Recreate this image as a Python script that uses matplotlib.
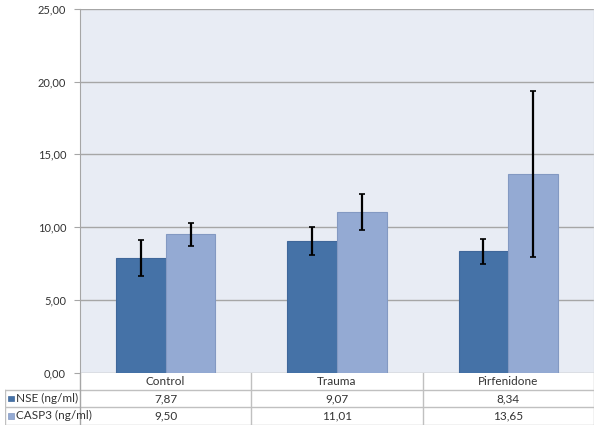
import numpy as np
import matplotlib.pyplot as plt
from matplotlib.patches import Rectangle

groups = ["Control", "Trauma", "Pirfenidone"]
series = ["NSE (ng/ml)", "CASP3 (ng/ml)"]
nse = [7.87, 9.07, 8.34]
casp3 = [9.50, 11.01, 13.65]
nse_err = [1.24, 0.96, 0.85]
casp3_err = [0.78, 1.24, 5.70]
yticks = [0, 5, 10, 15, 20, 25]

colors = ["#4572A7", "#94AAD3"]
edges = ["#3F679A", "#8399C2"]
grid_c = "#A6A6A6"
tab_c = "#C0C0C0"
txt_c = "#333333"

plt.rcParams['font.family'] = ['Lato', 'DejaVu Sans']


def fmt(v):
    return ("%.2f" % v).replace(".", ",")


fig = plt.figure(figsize=(6, 4.29), dpi=100)
W, H = 600, 429
x0, x1, y_top, y_bot = 80, 594, 9, 372.5
ax = fig.add_axes([x0 / W, 1 - y_bot / H, (x1 - x0) / W, (y_bot - y_top) / H])

x = np.arange(len(groups))
bw = 0.29
ax.set_facecolor("#E8ECF4")
ax.bar(x - bw / 2, nse, bw, color=colors[0], edgecolor=edges[0], linewidth=0.8, zorder=3)
ax.bar(x + bw / 2, casp3, bw, color=colors[1], edgecolor=edges[1], linewidth=0.8, zorder=3)
ax.errorbar(x - bw / 2, nse, yerr=nse_err, fmt='none', ecolor='black', elinewidth=1.6, capsize=2.5, capthick=1.2, zorder=4)
ax.errorbar(x + bw / 2, casp3, yerr=casp3_err, fmt='none', ecolor='black', elinewidth=1.6, capsize=2.5, capthick=1.2, zorder=4)

ax.set_xlim(-0.5, len(groups) - 0.5)
ax.set_ylim(0, 25)
ax.set_yticks(yticks)
ax.set_yticklabels([fmt(v) for v in yticks], fontsize=8, color=txt_c)
ax.set_xticks([])
ax.yaxis.grid(True, color=grid_c, linewidth=1.0, zorder=1)
ax.tick_params(axis='y', length=4, color=grid_c, pad=6)
for s in ["top", "right", "bottom"]:
    ax.spines[s].set_visible(False)
ax.spines["left"].set_color(grid_c)
ax.axvline(len(groups) - 0.5, color="#D4D9E3", linewidth=1.0, zorder=2)

# data table below the plot
lab_w = (x0 - 5) / ((x1 - x0) / len(groups))
tab = fig.add_axes([5 / W, 1 - 424.5 / H, (x1 - 5) / W, (424.5 - y_bot) / H])
tab.set_xlim(-0.5 - lab_w, len(groups) - 0.5)
tab.set_ylim(3, 0)
tab.axis('off')
left = -0.5 - lab_w
for r in [1, 2, 3]:
    tab.plot([left, len(groups) - 0.5], [r, r], color=tab_c, lw=1)
tab.plot([left, left], [1, 3], color=tab_c, lw=1)
tab.plot([-0.5, -0.5], [0, 3], color=grid_c, lw=1)
for i in range(len(groups)):
    tab.plot([i + 0.5, i + 0.5], [0, 3], color=tab_c, lw=1)
    tab.text(i, 0.5, groups[i], ha='center', va='center', fontsize=8.5, color=txt_c)
    tab.text(i, 1.5, fmt(nse[i]), ha='center', va='center', fontsize=8.5, color=txt_c)
    tab.text(i, 2.5, fmt(casp3[i]), ha='center', va='center', fontsize=8.5, color=txt_c)
sq = 6 / ((x1 - x0) / len(groups))
for r, name in enumerate(series):
    tab.add_patch(Rectangle((left + 0.02, r + 1.5 - 0.17), sq, 0.34, facecolor=colors[r], edgecolor=edges[r], lw=0.5))
    tab.text(left + 0.02 + sq + 0.008, r + 1.5, name, ha='left', va='center', fontsize=8.5, color=txt_c)

fig.savefig("out.png", dpi=100)
